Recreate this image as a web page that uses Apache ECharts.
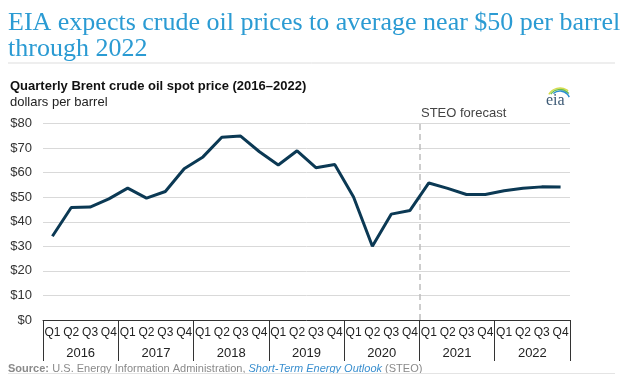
<!DOCTYPE html>
<html>
<head>
<meta charset="utf-8">
<script src="https://cdn.jsdelivr.net/npm/echarts@6/dist/echarts.min.js"></script>
<style>
html,body{margin:0;padding:0;background:#fff;}
#chart{width:624px;height:374px;}
</style>
</head>
<body>
<div id="chart"></div>
<script>
// ---- data ----
var years = ['2016', '2017', '2018', '2019', '2020', '2021', '2022'];
var quarterNames = ['Q1', 'Q2', 'Q3', 'Q4'];
var brentPrice = [
  34.1, 45.8, 46.0, 49.3,
  53.7, 49.6, 52.3, 61.6,
  66.4, 74.4, 74.9, 68.5,
  63.1, 68.9, 62.0, 63.3,
  50.1, 30.0, 43.1, 44.6,
  55.8, 53.6, 51.1, 51.1,
  52.6, 53.6, 54.2, 54.1
];
var yTicks = [0, 10, 20, 30, 40, 50, 60, 70, 80];
var forecastStartYear = '2021';

// ---- build ----
var quarterCats = [];
years.forEach(function (y) { quarterNames.forEach(function (q) { quarterCats.push(q + ' ' + y); }); });
var forecastIndex = years.indexOf(forecastStartYear) * quarterNames.length;

var chart = echarts.init(document.getElementById('chart'));
var sans = 'Liberation Sans, Arial, sans-serif';

chart.setOption({
  animation: false,
  backgroundColor: '#ffffff',
  title: {
    text: 'EIA expects crude oil prices to average near $50 per barrel\nthrough 2022',
    left: 3, top: 5,
    textStyle: { fontFamily: 'Liberation Serif, Times New Roman, serif', fontWeight: 'normal', fontSize: 26, lineHeight: 26, color: '#2b9bd3' }
  },
  grid: { left: 43, right: 54, top: 123.5, bottom: 54, containLabel: false },
  xAxis: [
    {
      type: 'category', data: quarterCats, position: 'bottom', boundaryGap: true,
      axisLine: { show: true, lineStyle: { color: '#333', width: 1 } },
      axisTick: { show: false },
      axisLabel: { interval: 0, margin: 7, fontFamily: sans, fontSize: 12, color: '#222',
        formatter: function (v) { return v.split(' ')[0]; } }
    },
    {
      type: 'category', data: years, position: 'bottom', boundaryGap: true,
      axisLine: { show: false },
      axisTick: { show: true, length: 41, interval: 0, lineStyle: { color: '#333', width: 1 } },
      axisLabel: { interval: 0, margin: 27, fontFamily: sans, fontSize: 13, color: '#222' }
    },
    { type: 'value', min: 0, max: quarterCats.length, show: false, position: 'top' }
  ],
  yAxis: {
    type: 'value', min: yTicks[0], max: yTicks[yTicks.length - 1], interval: yTicks[1] - yTicks[0],
    axisLine: { show: false }, axisTick: { show: false },
    splitLine: { lineStyle: { color: '#d9d9d9', width: 1 } },
    axisLabel: { margin: 11, fontFamily: sans, fontSize: 13, color: '#333', formatter: function (v) { return '$' + v; } }
  },
  series: [
    {
      type: 'line', xAxisIndex: 0, data: brentPrice, showSymbol: false, symbol: 'none',
      lineStyle: { color: '#0b3954', width: 3 }, z: 5
    },
    {
      type: 'line', xAxisIndex: 2, data: [], symbol: 'none',
      markLine: {
        silent: true, symbol: ['none', 'none'],
        lineStyle: { color: '#bdbdbd', type: [6, 4], width: 1.5 },
        label: { show: false },
        data: [{ xAxis: forecastIndex }]
      }
    }
  ],
  graphic: [
    { type: 'line', shape: { x1: 8, y1: 63, x2: 615, y2: 63 }, style: { stroke: '#dddddd', lineWidth: 1 } },
    { type: 'text', left: 10, top: 80, style: { text: 'Quarterly Brent crude oil spot price (2016\u20132022)', font: 'bold 13px ' + sans, fill: '#111' } },
    { type: 'text', left: 10, top: 96, style: { text: 'dollars per barrel', font: '13px ' + sans, fill: '#222' } },
    { type: 'text', left: 421, top: 107, style: { text: 'STEO forecast', font: '13px ' + sans, fill: '#444' } },
    { type: 'group', children: [
      { type: 'arc', shape: { cx: 560, cy: 101, r: 13, startAngle: -2.6, endAngle: -0.9 }, style: { stroke: '#d6dc4a', lineWidth: 1.5, fill: null } },
      { type: 'arc', shape: { cx: 560, cy: 101, r: 11.5, startAngle: -2.5, endAngle: -0.7 }, style: { stroke: '#6cbf4c', lineWidth: 1.5, fill: null } },
      { type: 'arc', shape: { cx: 560, cy: 101, r: 10, startAngle: -2.3, endAngle: -0.4 }, style: { stroke: '#2c8fd0', lineWidth: 1.5, fill: null } },
      { type: 'text', left: 546, top: 93, style: { text: 'eia', font: '16px Liberation Serif, serif', fill: '#3d5a75' } }
    ]},
    { type: 'text', left: 8, top: 363, style: {
      text: '{b|Source:} {n|U.S. Energy Information Administration, }{i|Short-Term Energy Outlook}{n| (STEO)}',
      rich: {
        b: { font: 'bold 11px ' + sans, fill: '#8a8a8a' },
        n: { font: '11px ' + sans, fill: '#8a8a8a' },
        i: { font: 'italic 11px ' + sans, fill: '#3a8fcf' }
      }
    } },
    { type: 'line', shape: { x1: 8, y1: 373.5, x2: 615, y2: 373.5 }, style: { stroke: '#e4e4e4', lineWidth: 1 } }
  ]
});
</script>
</body>
</html>
